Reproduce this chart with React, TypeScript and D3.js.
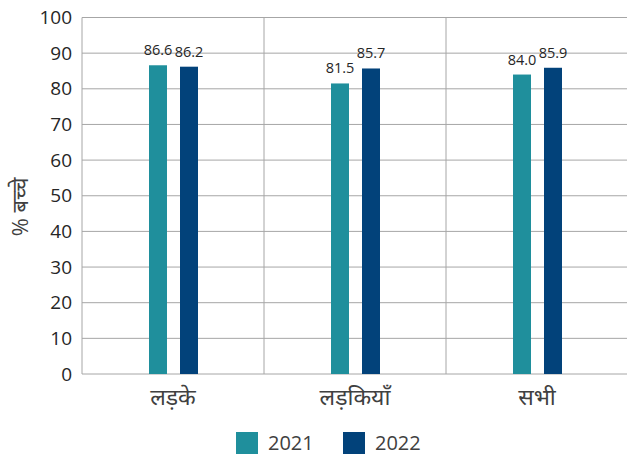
import React from "react";
import * as d3 from "d3";

const categories = ["लड़के", "लड़कियाँ", "सभी"];
const seriesNames = ["2021", "2022"];
const values2021 = [86.6, 81.5, 84.0];
const values2022 = [86.2, 85.7, 85.9];
const yTicks = [0, 10, 20, 30, 40, 50, 60, 70, 80, 90, 100];
const yTitle = "% बच्चे";
const colors = ["#1f8f9c", "#02427a"];

export default function App() {
  const W = 627, H = 456;
  const left = 82, right = 628, top = 17.5, bottom = 374;
  const x = d3.scaleBand<string>().domain(categories).range([left, right]);
  const y = d3.scaleLinear().domain([0, 100]).range([bottom, top]);
  const series = [values2021, values2022];
  const barW = 18;
  const offsets = [-24, 7];
  const font = "'Open Sans', 'Noto Sans', sans-serif";
  return (
    <svg width={W} height={H} style={{ position: "absolute", left: 0, top: 0, fontFamily: font }}>
      <rect width={W} height={H} fill="#fff" />
      {yTicks.map((t) => (
        <g key={t}>
          {t > 0 && <line x1={left} x2={right} y1={y(t)} y2={y(t)} stroke="#a6a6a6" strokeWidth={1} />}
          <text x={72} y={y(t)} dy="0.35em" textAnchor="end" fontSize={19} fill="#262626">{t}</text>
        </g>
      ))}
      {categories.slice(1).map((c) => (
        <line key={c} x1={x(c)!} x2={x(c)!} y1={top} y2={bottom} stroke="#a6a6a6" />
      ))}
      <line x1={left} x2={left} y1={top} y2={bottom} stroke="#a6a6a6" />
      <line x1={left} x2={right} y1={bottom} y2={bottom} stroke="#a6a6a6" />
      {series.map((vals, si) =>
        vals.map((v, i) => {
          const cx = x(categories[i])! + x.bandwidth() / 2 + offsets[si];
          return (
            <g key={si + "-" + i}>
              <rect x={cx} y={y(v)} width={barW} height={bottom - y(v)} fill={colors[si]} />
              <text x={cx + barW / 2} y={y(v) - 10} textAnchor="middle" fontSize={14.5} fill="#262626">{v.toFixed(1)}</text>
            </g>
          );
        })
      )}
      {categories.map((c) => (
        <text key={c} x={x(c)! + x.bandwidth() / 2} y={397} dy="0.35em" textAnchor="middle" fontSize={23} fill="#404040">{c}</text>
      ))}
      <text transform={`translate(20,${207}) rotate(-90)`} textAnchor="middle" dy="0.35em" fontSize={22} fill="#404040">{yTitle}</text>
      {seriesNames.map((s, i) => (
        <g key={s} transform={`translate(${236 + i * 107},432)`}>
          <rect width={22} height={22} fill={colors[i]} />
          <text x={32} y={11} dy="0.35em" fontSize={20} fill="#404040">{s}</text>
        </g>
      ))}
    </svg>
  );
}
